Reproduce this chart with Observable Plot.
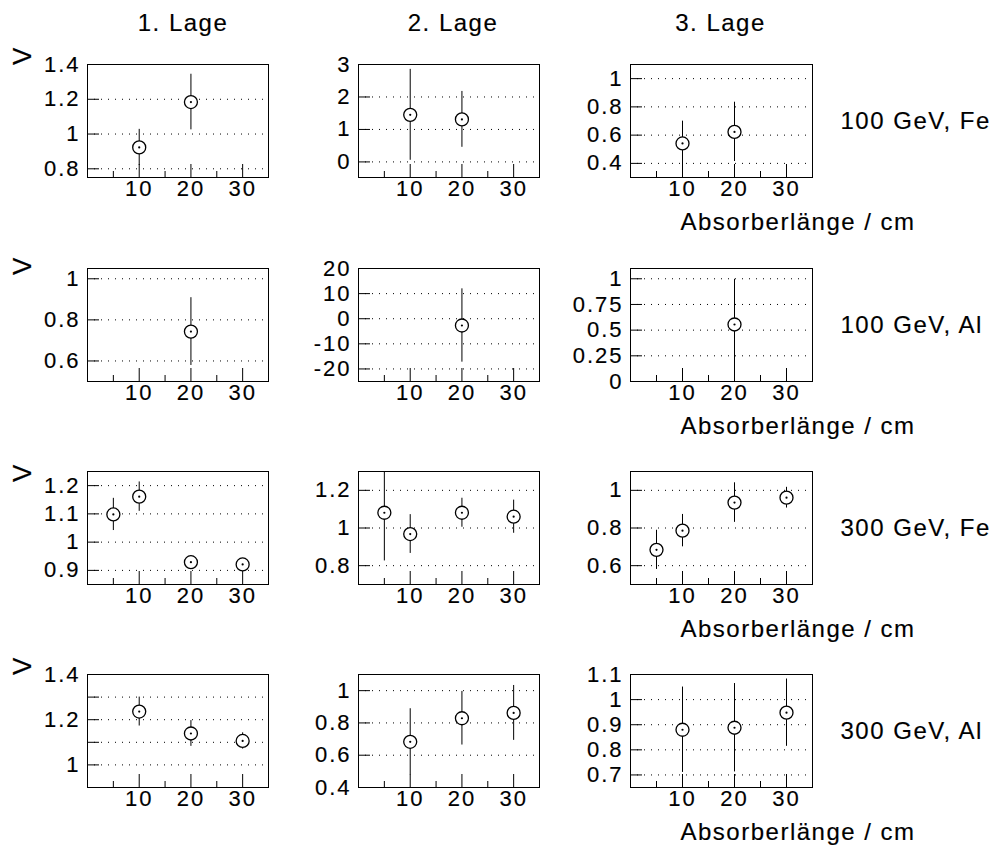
<!DOCTYPE html>
<html>
<head>
<meta charset="utf-8">
<script src="https://cdn.jsdelivr.net/npm/d3@7"></script>
<script src="https://cdn.jsdelivr.net/npm/@observablehq/plot@0.6"></script>
<style>
  html, body { margin: 0; padding: 0; background: #fff; }
  #chart { position: relative; width: 995px; height: 854px; overflow: hidden; background: #fff; }
  #chart svg { position: absolute; }
  #chart svg text { stroke: #000; stroke-width: 0.15px; }
  #chart g[aria-label$="tick label"] { letter-spacing: 2px; }
</style>
</head>
<body>
<div id="chart"></div>
<script>
// ---------- labels ----------
const colLabels = ["1. Lage", "2. Lage", "3. Lage"];
const rowLabels = ["100 GeV, Fe", "100 GeV, Al", "300 GeV, Fe", "300 GeV, Al"];
const yTitle = "V";
const xTitle = "Absorberlänge / cm";
const xTicks = [10, 20, 30];
const xMinor = [5, 15, 25];

// ---------- data (x = absorber length, v = value, e = error) ----------
// Row 1: 100 GeV, Fe
const r1c1X = [10, 20], r1c1V = [0.923, 1.184], r1c1E = [0.104, 0.160];
const r1c2X = [10, 20], r1c2V = [1.45, 1.31],  r1c2E = [1.40, 0.86];
const r1c3X = [10, 20], r1c3V = [0.541, 0.623], r1c3E = [0.158, 0.210];
// Row 2: 100 GeV, Al
const r2c1X = [20], r2c1V = [0.743], r2c1E = [0.165];
const r2c2X = [20], r2c2V = [-2.7],  r2c2E = [14.6];
const r2c3X = [20], r2c3V = [0.555], r2c3E = [0.44];
// Row 3: 300 GeV, Fe
const r3c1X = [5, 10, 20, 30], r3c1V = [1.098, 1.161, 0.929, 0.921], r3c1E = [0.057, 0.052, 0.020, 0.020];
const r3c2X = [5, 10, 20, 30], r3c2V = [1.081, 0.968, 1.081, 1.060], r3c2E = [0.256, 0.103, 0.077, 0.088];
const r3c3X = [5, 10, 20, 30], r3c3V = [0.684, 0.786, 0.935, 0.961], r3c3E = [0.104, 0.086, 0.105, 0.055];
// Row 4: 300 GeV, Al
const r4c1X = [10, 20, 30], r4c1V = [1.236, 1.139, 1.106], r4c1E = [0.064, 0.057, 0.036];
const r4c2X = [10, 20, 30], r4c2V = [0.683, 0.829, 0.862], r4c2E = [0.205, 0.166, 0.170];
const r4c3X = [10, 20, 30], r4c3V = [0.880, 0.888, 0.948], r4c3E = [0.170, 0.176, 0.134];

// ---------- y axes (domain, grid ticks, labelled ticks) ----------
const r1c1Dom = [0.75, 1.4],  r1c1Grid = [0.8, 1, 1.2, 1.4],      r1c1Lab = [0.8, 1, 1.2, 1.4];
const r1c2Dom = [-0.48, 3],   r1c2Grid = [0, 1, 2, 3],            r1c2Lab = [0, 1, 2, 3];
const r1c3Dom = [0.3, 1.1],   r1c3Grid = [0.4, 0.6, 0.8, 1],      r1c3Lab = [0.4, 0.6, 0.8, 1];
const r2c1Dom = [0.5, 1.05],  r2c1Grid = [0.6, 0.8, 1],           r2c1Lab = [0.6, 0.8, 1];
const r2c2Dom = [-25, 20],    r2c2Grid = [-20, -10, 0, 10, 20],   r2c2Lab = [-20, -10, 0, 10, 20];
const r2c3Dom = [0, 1.1],     r2c3Grid = [0, 0.25, 0.5, 0.75, 1], r2c3Lab = [0, 0.25, 0.5, 0.75, 1];
const r3c1Dom = [0.85, 1.25], r3c1Grid = [0.9, 1, 1.1, 1.2],      r3c1Lab = [0.9, 1, 1.1, 1.2];
const r3c2Dom = [0.7, 1.3],   r3c2Grid = [0.8, 1, 1.2],           r3c2Lab = [0.8, 1, 1.2];
const r3c3Dom = [0.5, 1.1],   r3c3Grid = [0.6, 0.8, 1],           r3c3Lab = [0.6, 0.8, 1];
const r4c1Dom = [0.9, 1.4],   r4c1Grid = [1, 1.1, 1.2, 1.3, 1.4], r4c1Lab = [1, 1.2, 1.4];
const r4c2Dom = [0.4, 1.1],   r4c2Grid = [0.4, 0.6, 0.8, 1],      r4c2Lab = [0.4, 0.6, 0.8, 1];
const r4c3Dom = [0.65, 1.1],  r4c3Grid = [0.7, 0.8, 0.9, 1, 1.1], r4c3Lab = [0.7, 0.8, 0.9, 1, 1.1];

const panels = [
  [[r1c1X, r1c1V, r1c1E, r1c1Dom, r1c1Grid, r1c1Lab], [r1c2X, r1c2V, r1c2E, r1c2Dom, r1c2Grid, r1c2Lab], [r1c3X, r1c3V, r1c3E, r1c3Dom, r1c3Grid, r1c3Lab]],
  [[r2c1X, r2c1V, r2c1E, r2c1Dom, r2c1Grid, r2c1Lab], [r2c2X, r2c2V, r2c2E, r2c2Dom, r2c2Grid, r2c2Lab], [r2c3X, r2c3V, r2c3E, r2c3Dom, r2c3Grid, r2c3Lab]],
  [[r3c1X, r3c1V, r3c1E, r3c1Dom, r3c1Grid, r3c1Lab], [r3c2X, r3c2V, r3c2E, r3c2Dom, r3c2Grid, r3c2Lab], [r3c3X, r3c3V, r3c3E, r3c3Dom, r3c3Grid, r3c3Lab]],
  [[r4c1X, r4c1V, r4c1E, r4c1Dom, r4c1Grid, r4c1Lab], [r4c2X, r4c2V, r4c2E, r4c2Dom, r4c2Grid, r4c2Lab], [r4c3X, r4c3V, r4c3E, r4c3Dom, r4c3Grid, r4c3Lab]]
];

// ---------- layout ----------
const cols = [
  {left: 0,   width: 273, ml: 87, mr: 5,   titleDx: 5},
  {left: 273, width: 272, ml: 85, mr: 6,   titleDx: 4},
  {left: 545, width: 450, ml: 85, mr: 183, titleDx: -1}
];
const rows = [
  {top: 0,   height: 240, mt: 64, mb: 63, vDy: -9},
  {top: 240, height: 204, mt: 28, mb: 63, vDy: -3},
  {top: 444, height: 203, mt: 27, mb: 63, vDy: 1},
  {top: 647, height: 207, mt: 27, mb: 67, vDy: -9}
];

const FONT = "'Liberation Sans', Arial, Helvetica, sans-serif";
const chart = document.getElementById("chart");

rows.forEach((row, r) => {
  cols.forEach((col, c) => {
    const [xs, vs, es, dom, grid, labs] = panels[r][c];
    const data = xs.map((x, i) => ({x, v: vs[i], e: es[i]}));
    const fw = col.width - col.ml - col.mr;
    const fh = row.height - row.mt - row.mb;
    const marks = [
      Plot.ruleY(grid, {y: d => d, stroke: "black", strokeWidth: 1, strokeDasharray: "1,6"}),
      Plot.tickY(grid, {y: d => d, stroke: "black", strokeWidth: 1, insetRight: fw - 12}),
      Plot.tickX(xTicks, {x: d => d, stroke: "black", strokeWidth: 1, insetTop: fh - 13}),
      Plot.tickX(xMinor, {x: d => d, stroke: "black", strokeWidth: 1, insetTop: fh - 6}),
      Plot.frame({stroke: "black", strokeWidth: 1}),
      Plot.ruleX(data, {x: "x", y1: d => d.v - d.e, y2: d => d.v + d.e, stroke: "black", strokeWidth: 1, clip: true}),
      Plot.dot(data, {x: "x", y: "v", r: 6.5, fill: "white", stroke: "black", strokeWidth: 1.3}),
      Plot.dot(data, {x: "x", y: "v", r: 1.1, fill: "black", stroke: "none"}),
      Plot.axisX({ticks: xTicks, tickSize: 0, tickPadding: 3, fontSize: 22, tickFormat: d => String(d)}),
      Plot.axisY({ticks: labs, tickSize: 0, tickPadding: 7, fontSize: 22, tickFormat: d => String(d)})
    ];
    if (r === 0) {
      marks.push(Plot.text([colLabels[c]], {frameAnchor: "top", lineAnchor: "middle", textAnchor: "middle",
        dx: col.titleDx, dy: -41, fontSize: 24, fill: "black"}));
    }
    if (c === 0) {
      marks.push(Plot.text([yTitle], {frameAnchor: "top-left", lineAnchor: "middle", textAnchor: "middle",
        dx: -65, dy: row.vDy, rotate: -90, fontSize: 26, fill: "black"}));
    }
    if (c === 2) {
      marks.push(Plot.text([rowLabels[r]], {frameAnchor: "right", lineAnchor: "middle", textAnchor: "start",
        dx: 28, fontSize: 24, fill: "black"}));
      marks.push(Plot.text([xTitle], {frameAnchor: "bottom-left", lineAnchor: "middle", textAnchor: "start",
        dx: 50, dy: 45, fontSize: 24, fill: "black"}));
    }
    const svg = Plot.plot({
      width: col.width,
      height: row.height,
      marginLeft: col.ml,
      marginRight: col.mr,
      marginTop: row.mt,
      marginBottom: row.mb,
      x: {domain: [0, 35], label: null},
      y: {domain: dom, label: null},
      style: {fontFamily: FONT, fontSize: "22px", letterSpacing: "1.5px", color: "black", background: "transparent"},
      marks
    });
    svg.style.left = col.left + "px";
    svg.style.top = row.top + "px";
    svg.style.position = "absolute";
    svg.style.maxWidth = "none";
    chart.appendChild(svg);
  });
});
</script>
</body>
</html>
